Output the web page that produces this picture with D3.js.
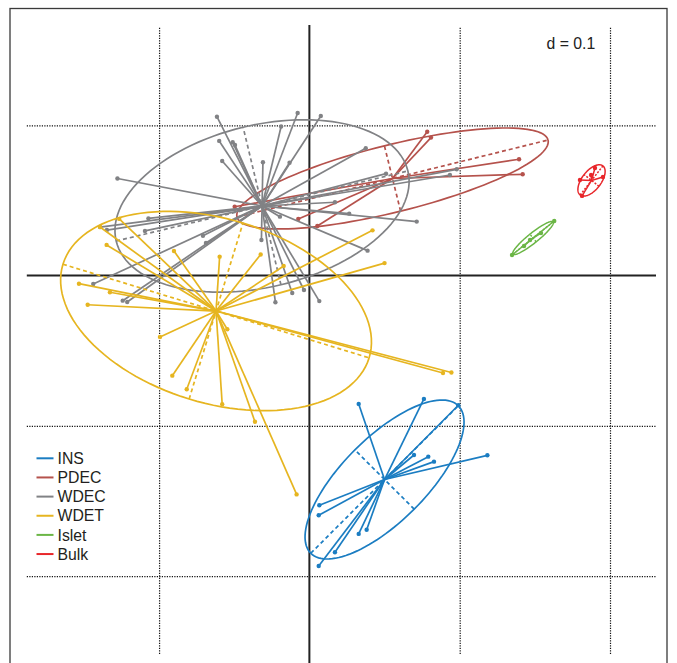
<!DOCTYPE html>
<html><head><meta charset="utf-8">
<script src="https://cdn.jsdelivr.net/npm/d3@7"></script>
<style>body{margin:0;background:#fff}svg{display:block}text{font-family:"Liberation Sans",Arial,Helvetica,sans-serif}</style>
</head><body><svg id="c" width="677" height="663"></svg>
<script>
// ---- data ----
const groups = ["INS","PDEC","WDEC","WDET","Islet","Bulk"];
const colors = ["#1b7dc2","#b5524c","#818285","#e6b520","#6bb646","#e8262a"];
const xGrid = [-0.1, 0.1, 0.2];
const yGrid = [0.1, -0.1, -0.2];
const gridLabel = "d = 0.1";

const INS = [[0.0328,-0.0854],[0.0762,-0.0821],[0.0991,-0.0863],[0.1184,-0.1196],[0.0791,-0.1205],[0.0829,-0.1238],[0.0696,-0.1194],[0.0066,-0.1528],[0.0062,-0.1595],[0.0328,-0.1719],[0.0381,-0.1691],[0.0170,-0.1841],[0.0062,-0.1932]];
const PDEC = [[0.0784,0.0957],[0.0809,0.0918],[0.1395,0.0774],[0.1419,0.0674],[0.0053,0.0330],[-0.0074,0.0377],[-0.0497,0.0458]];
const WDEC = [[-0.0615,0.1057],[-0.0078,0.1082],[0.0076,0.1062],[-0.0188,0.0992],[-0.0600,0.0896],[-0.0510,0.0887],[-0.0495,0.0869],[-0.0580,0.0762],[-0.0309,0.0754],[-0.0132,0.0751],[-0.1277,0.0646],[-0.0319,0.0237],[-0.0226,-0.0177],[-0.0114,-0.0116],[-0.0036,-0.0096],[0.0066,-0.0170],[-0.0196,0.0392],[0.0510,0.0678],[0.0980,0.0707],[0.0935,0.0669],[0.0714,0.0359],[0.0265,0.0412],[0.0170,0.0488],[0.0375,0.0847],[0.0387,0.0166],[-0.1071,0.0380],[-0.1094,0.0297],[-0.1393,0.0323],[-0.1347,0.0303],[-0.0708,0.0265],[-0.0688,0.0217],[-0.1438,-0.0056],[-0.1242,-0.0167],[-0.1212,-0.0176]];
const WDET = [[-0.1265,0.0377],[-0.1393,0.0323],[-0.1349,0.0204],[-0.0901,0.0164],[-0.0597,0.0126],[-0.1533,-0.0054],[-0.1327,-0.0111],[-0.1475,-0.0194],[-0.0994,-0.0409],[-0.0912,-0.0666],[-0.0816,-0.0756],[-0.0580,-0.0856],[-0.0362,-0.0973],[-0.0085,-0.1456],[-0.0324,0.0140],[-0.0171,0.0064],[0.0420,0.0301],[0.0500,0.0083],[0.0945,-0.0645],[0.0889,-0.0648],[-0.0546,-0.0357]];
const Islet = [[0.1629,0.0363],[0.1348,0.0137],[0.1428,0.0197],[0.1541,0.0283],[0.1468,0.0237]];
const Bulk = [[0.1814,0.0530],[0.1874,0.0669],[0.1953,0.0656],[0.1800,0.0636],[0.1900,0.0716]];
const points = [INS, PDEC, WDEC, WDET, Islet, Bulk];

// group centres and ellipse shape (semi-axes, angle of major axis in degrees)
const centerX = [0.0500, 0.0553, -0.0315, -0.0621, 0.1488, 0.1877];
const centerY = [-0.1357, 0.0646, 0.0463, -0.0236, 0.0250, 0.0633];
const semiMajor = [0.0694, 0.1066, 0.0998, 0.1065, 0.0172, 0.0123];
const semiMinor = [0.0279, 0.0224, 0.0539, 0.0612, 0.0033, 0.0063];
const angleDeg = [45, 13.9, 13.5, -17, 38.7, 52];

// ---- drawing ----
const svg = d3.select("#c");
const x = d3.scaleLinear().domain([-0.188, 0.2306]).range([26.8, 656]);
const y = d3.scaleLinear().domain([0.1654, -0.2518]).range([27, 654]);
const plotTop = 27, plotBottom = 654;

// frame
svg.append("rect").attr("x",10).attr("y",8.5).attr("width",657).attr("height",670)
  .attr("fill","none").attr("stroke","#3a3a3a").attr("stroke-width",1.3);

// dotted grid via axes
const gx = svg.append("g").attr("transform",`translate(0,${plotBottom})`)
  .call(d3.axisBottom(x).tickValues(xGrid).tickSize(-(plotBottom-plotTop)).tickFormat(""));
const gy = svg.append("g").attr("transform",`translate(${x.range()[0]},0)`)
  .call(d3.axisLeft(y).tickValues(yGrid).tickSize(-(x.range()[1]-x.range()[0])).tickFormat(""));
[gx,gy].forEach(g=>{
  g.select(".domain").remove();
  g.selectAll(".tick line").attr("stroke","#111").attr("stroke-width",1.2).attr("stroke-dasharray","1.2,1.3");
});

// main axes
svg.append("line").attr("x1",x.range()[0]).attr("x2",x.range()[1]).attr("y1",y(0)).attr("y2",y(0))
  .attr("stroke","#222").attr("stroke-width",2);
svg.append("line").attr("x1",x(0)).attr("x2",x(0)).attr("y1",25).attr("y2",663)
  .attr("stroke","#222").attr("stroke-width",2);

svg.append("text").attr("x",546.5).attr("y",48.5).attr("font-size",15.8).attr("fill","#222").text(gridLabel);

const line = d3.line().x(d=>x(d[0])).y(d=>y(d[1]));

groups.forEach((g,i)=>{
  const col = colors[i];
  const cx = centerX[i], cy = centerY[i];
  const a = semiMajor[i], b = semiMinor[i], th = angleDeg[i]*Math.PI/180;
  const u = [Math.cos(th), Math.sin(th)], v = [-Math.sin(th), Math.cos(th)];
  const grp = svg.append("g");
  const small = i>=4;
  const sw = small ? 1.5 : 1.7;
  const ell = d3.range(0, 361, 3).map(t=>{
    const r = t*Math.PI/180;
    return [cx + a*Math.cos(r)*u[0] + b*Math.sin(r)*v[0], cy + a*Math.cos(r)*u[1] + b*Math.sin(r)*v[1]];
  });
  grp.append("path").attr("d",line(ell)).attr("fill","none").attr("stroke",col).attr("stroke-width",sw);
  [[u,a],[v,b]].forEach(([w,l])=>{
    grp.append("path").attr("d",line([[cx-l*w[0],cy-l*w[1]],[cx+l*w[0],cy+l*w[1]]]))
      .attr("stroke",col).attr("stroke-width",sw).attr("stroke-dasharray", small ? "2,1.5" : "4,3");
  });
  grp.selectAll("line.s").data(points[i]).join("line").attr("class","s")
    .attr("x1",x(cx)).attr("y1",y(cy)).attr("x2",d=>x(d[0])).attr("y2",d=>y(d[1]))
    .attr("stroke",col).attr("stroke-width",sw);
  grp.selectAll("circle").data(points[i]).join("circle")
    .attr("cx",d=>x(d[0])).attr("cy",d=>y(d[1])).attr("r",2.2).attr("fill",col);
});

// legend
const lg = svg.append("g");
groups.forEach((g,i)=>{
  const yy = 458.3 + i*19.15;
  lg.append("line").attr("x1",36.5).attr("x2",53.5).attr("y1",yy).attr("y2",yy)
    .attr("stroke",colors[i]).attr("stroke-width",2);
  lg.append("text").attr("x",57.5).attr("y",yy).attr("dy","0.36em").attr("font-size",15.8)
    .attr("fill","#231f20").text(g);
});
</script></body></html>
